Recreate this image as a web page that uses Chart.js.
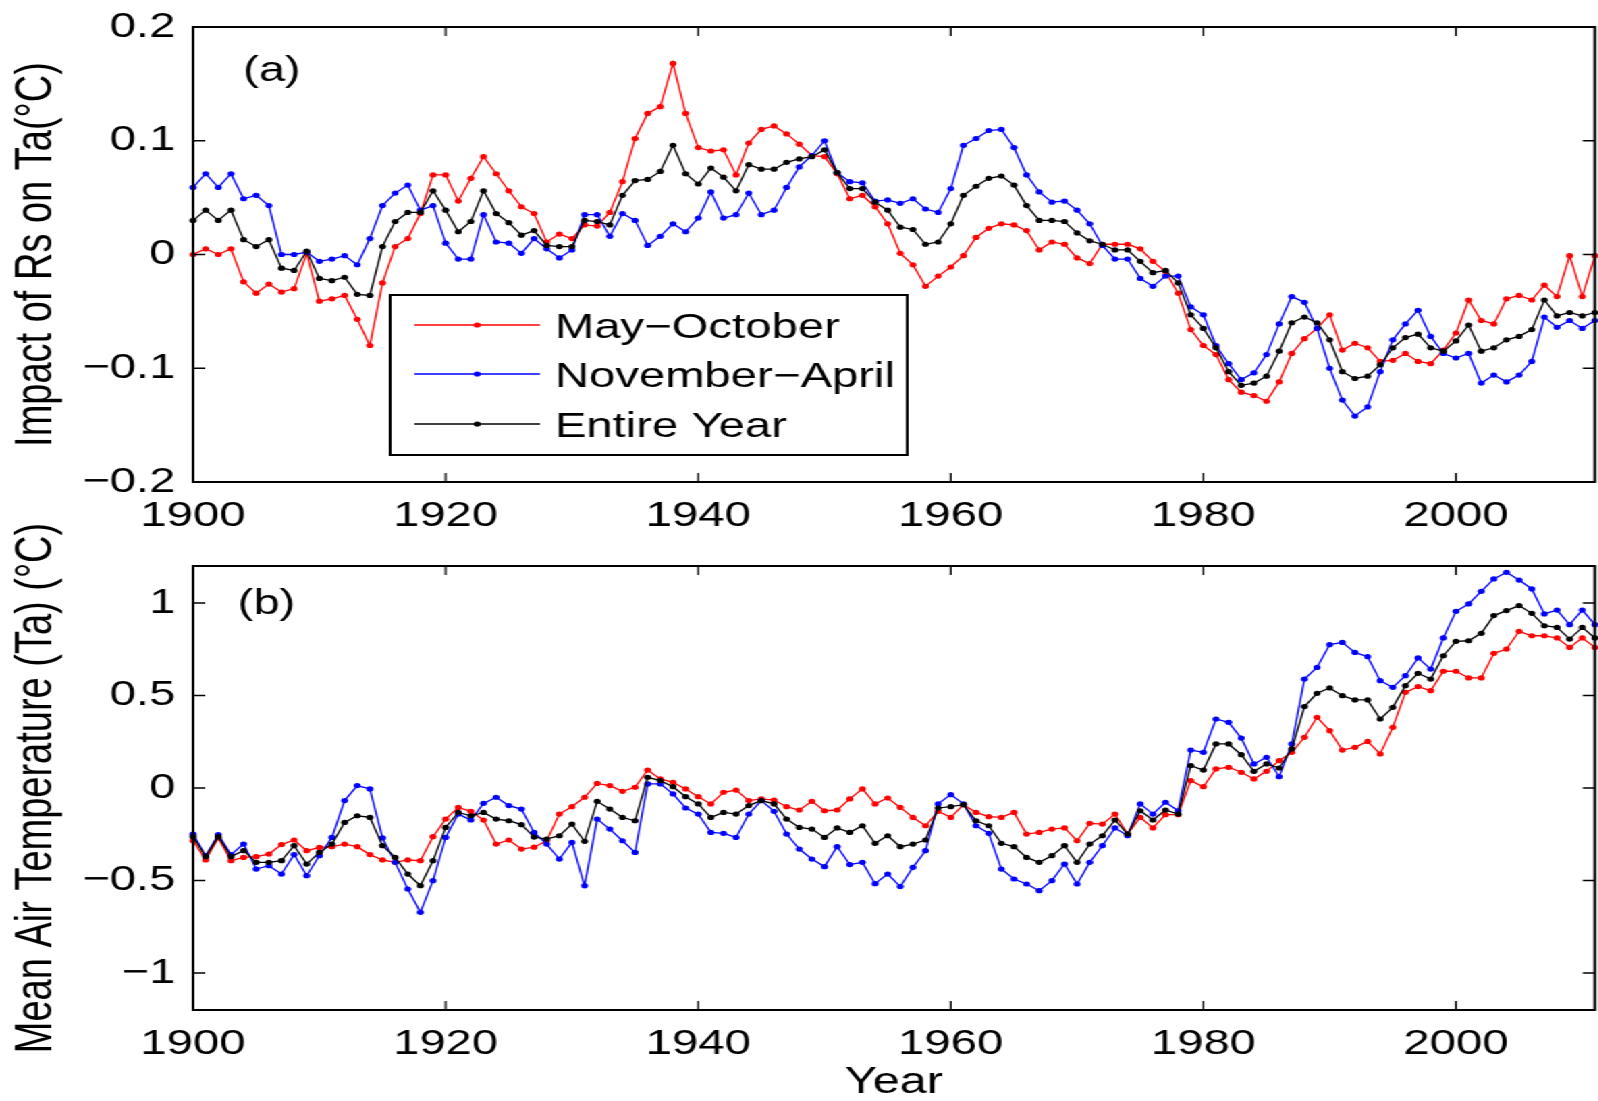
<!DOCTYPE html>
<html>
<head>
<meta charset="utf-8">
<script src="https://cdn.jsdelivr.net/npm/chart.js@4"></script>
<style>
  html, body { margin: 0; padding: 0; background: #fff; overflow: hidden; }
  /* the source figure is stretched sideways, so the whole drawing is too */
  #wrap { position: absolute; left: 0; top: 0; width: 1184px; height: 1101px; transform: scaleX(1.35); transform-origin: 0 0; }
  #wrap canvas { position: absolute; left: 0; }
</style>
</head>
<body>
<div id="wrap">
  <canvas id="chartA" width="1184" height="545" style="top:0"></canvas>
  <canvas id="chartB" width="1184" height="601" style="top:500px"></canvas>
</div>
<script>
// years 1900..2011
const years = [];
for (let y = 1900; y <= 2011; y++) years.push(y);

const seriesNames = ["May\u2212October", "November\u2212April", "Entire Year"];
const xTicks = [1900, 1920, 1940, 1960, 1980, 2000];
const yTicksA = [-0.2, -0.1, 0, 0.1, 0.2];
const yTicksB = [-1, -0.5, 0, 0.5, 1];

// (a) impact of Rs on Ta
const rsMayOct = [0.000, 0.005, 0.000, 0.005, -0.024, -0.034, -0.026, -0.033, -0.030, 0.001,
  -0.041, -0.039, -0.036, -0.057, -0.080, -0.025, 0.007, 0.014, 0.036, 0.070,
  0.070, 0.047, 0.067, 0.086, 0.071, 0.056, 0.042, 0.036, 0.011, 0.018,
  0.014, 0.026, 0.025, 0.037, 0.064, 0.102, 0.124, 0.130, 0.168, 0.124,
  0.094, 0.091, 0.092, 0.070, 0.098, 0.110, 0.113, 0.106, 0.097, 0.087,
  0.086, 0.071, 0.049, 0.052, 0.042, 0.027, 0.001, -0.009, -0.028, -0.019,
  -0.011, -0.001, 0.015, 0.023, 0.027, 0.026, 0.021, 0.004, 0.011, 0.009,
  -0.003, -0.008, 0.009, 0.009, 0.009, 0.005, -0.006, -0.015, -0.034, -0.066,
  -0.080, -0.088, -0.110, -0.121, -0.124, -0.129, -0.112, -0.087, -0.074, -0.065,
  -0.053, -0.084, -0.078, -0.082, -0.094, -0.093, -0.087, -0.094, -0.096, -0.084,
  -0.069, -0.040, -0.058, -0.061, -0.039, -0.036, -0.040, -0.027, -0.037, -0.001,
  -0.037, -0.001];
const rsNovApr = [0.059, 0.071, 0.059, 0.071, 0.049, 0.052, 0.043, 0.000, 0.000, 0.002,
  -0.006, -0.004, -0.001, -0.009, 0.014, 0.043, 0.054, 0.061, 0.039, 0.043,
  0.010, -0.004, -0.004, 0.035, 0.011, 0.010, 0.001, 0.014, 0.005, -0.003,
  0.004, 0.035, 0.035, 0.016, 0.036, 0.030, 0.008, 0.016, 0.027, 0.020,
  0.032, 0.055, 0.032, 0.035, 0.054, 0.035, 0.039, 0.059, 0.077, 0.087,
  0.100, 0.072, 0.064, 0.063, 0.047, 0.048, 0.045, 0.049, 0.040, 0.037,
  0.058, 0.096, 0.102, 0.109, 0.110, 0.094, 0.070, 0.055, 0.046, 0.047,
  0.039, 0.027, 0.008, -0.004, -0.004, -0.021, -0.028, -0.019, -0.019, -0.046,
  -0.053, -0.080, -0.096, -0.110, -0.104, -0.088, -0.061, -0.037, -0.042, -0.065,
  -0.100, -0.128, -0.142, -0.134, -0.103, -0.075, -0.061, -0.049, -0.072, -0.087,
  -0.091, -0.087, -0.113, -0.106, -0.112, -0.106, -0.094, -0.055, -0.064, -0.058,
  -0.065, -0.058];
const rsYear = [0.030, 0.039, 0.030, 0.039, 0.013, 0.007, 0.013, -0.012, -0.014, 0.003,
  -0.021, -0.023, -0.020, -0.035, -0.036, 0.007, 0.029, 0.037, 0.037, 0.056,
  0.039, 0.020, 0.029, 0.056, 0.036, 0.028, 0.017, 0.021, 0.008, 0.007,
  0.007, 0.030, 0.029, 0.026, 0.052, 0.065, 0.066, 0.073, 0.096, 0.071,
  0.062, 0.076, 0.068, 0.056, 0.079, 0.075, 0.075, 0.081, 0.084, 0.086,
  0.092, 0.072, 0.058, 0.058, 0.046, 0.039, 0.024, 0.022, 0.009, 0.011,
  0.027, 0.052, 0.060, 0.067, 0.069, 0.061, 0.043, 0.030, 0.030, 0.029,
  0.019, 0.012, 0.009, 0.004, 0.004, -0.006, -0.016, -0.014, -0.025, -0.053,
  -0.065, -0.082, -0.103, -0.115, -0.113, -0.107, -0.085, -0.060, -0.055, -0.060,
  -0.075, -0.103, -0.109, -0.107, -0.097, -0.082, -0.073, -0.070, -0.082, -0.085,
  -0.076, -0.062, -0.085, -0.082, -0.075, -0.072, -0.066, -0.040, -0.054, -0.051,
  -0.054, -0.051];

// (b) mean air temperature
const taMayOct = [-0.285, -0.389, -0.270, -0.393, -0.375, -0.371, -0.357, -0.306, -0.281, -0.339,
  -0.321, -0.317, -0.303, -0.317, -0.360, -0.389, -0.402, -0.389, -0.393, -0.263,
  -0.168, -0.105, -0.126, -0.173, -0.303, -0.281, -0.330, -0.320, -0.285, -0.141,
  -0.101, -0.050, 0.025, 0.013, -0.018, 0.004, 0.097, 0.049, 0.031, -0.005,
  -0.047, -0.086, -0.023, -0.011, -0.068, -0.059, -0.065, -0.101, -0.119, -0.072,
  -0.123, -0.119, -0.059, -0.005, -0.086, -0.054, -0.105, -0.159, -0.204, -0.126,
  -0.159, -0.090, -0.132, -0.155, -0.159, -0.132, -0.249, -0.240, -0.222, -0.216,
  -0.285, -0.191, -0.195, -0.141, -0.249, -0.159, -0.216, -0.144, -0.144, 0.040,
  0.007, 0.103, 0.112, 0.085, 0.049, 0.090, 0.148, 0.193, 0.274, 0.382,
  0.310, 0.205, 0.220, 0.252, 0.184, 0.328, 0.517, 0.548, 0.526, 0.631,
  0.631, 0.595, 0.595, 0.728, 0.751, 0.847, 0.823, 0.823, 0.811, 0.760,
  0.811, 0.760];
const taNovApr = [-0.249, -0.366, -0.252, -0.360, -0.303, -0.438, -0.420, -0.465, -0.360, -0.474,
  -0.366, -0.267, -0.068, 0.013, -0.005, -0.270, -0.402, -0.546, -0.672, -0.501,
  -0.267, -0.141, -0.173, -0.083, -0.050, -0.095, -0.114, -0.240, -0.303, -0.384,
  -0.294, -0.528, -0.168, -0.222, -0.285, -0.348, 0.022, 0.022, -0.032, -0.108,
  -0.141, -0.240, -0.245, -0.267, -0.141, -0.068, -0.126, -0.249, -0.330, -0.384,
  -0.425, -0.317, -0.414, -0.402, -0.517, -0.465, -0.533, -0.429, -0.339, -0.086,
  -0.036, -0.086, -0.204, -0.245, -0.438, -0.492, -0.519, -0.555, -0.501, -0.411,
  -0.519, -0.402, -0.312, -0.216, -0.258, -0.086, -0.141, -0.077, -0.123, 0.205,
  0.193, 0.373, 0.355, 0.270, 0.130, 0.166, 0.061, 0.238, 0.589, 0.652,
  0.775, 0.787, 0.733, 0.710, 0.580, 0.544, 0.607, 0.703, 0.643, 0.811,
  0.955, 0.995, 1.063, 1.130, 1.166, 1.124, 1.076, 0.941, 0.962, 0.883,
  0.962, 0.883];
const taYear = [-0.263, -0.371, -0.263, -0.371, -0.339, -0.402, -0.402, -0.393, -0.312, -0.411,
  -0.348, -0.303, -0.186, -0.150, -0.159, -0.312, -0.375, -0.465, -0.528, -0.393,
  -0.213, -0.132, -0.150, -0.132, -0.168, -0.177, -0.198, -0.265, -0.276, -0.258,
  -0.195, -0.288, -0.072, -0.114, -0.159, -0.177, 0.058, 0.040, 0.007, -0.047,
  -0.086, -0.159, -0.132, -0.141, -0.095, -0.068, -0.086, -0.168, -0.213, -0.222,
  -0.267, -0.216, -0.240, -0.204, -0.299, -0.258, -0.317, -0.303, -0.281, -0.108,
  -0.101, -0.090, -0.177, -0.204, -0.299, -0.317, -0.375, -0.402, -0.366, -0.312,
  -0.402, -0.303, -0.258, -0.173, -0.249, -0.123, -0.173, -0.119, -0.141, 0.121,
  0.097, 0.238, 0.238, 0.180, 0.090, 0.130, 0.108, 0.211, 0.440, 0.512,
  0.541, 0.499, 0.476, 0.476, 0.373, 0.436, 0.553, 0.620, 0.589, 0.715,
  0.793, 0.796, 0.836, 0.932, 0.959, 0.986, 0.944, 0.877, 0.868, 0.805,
  0.868, 0.811];

const colors = ["#ff0000", "#0000ff", "#000000"];
const FONT = '"Liberation Sans", Arial, Helvetica, sans-serif';

Chart.defaults.font.family = FONT;
Chart.defaults.color = "#000";

function fmt(v) {
    const r = Math.round(v * 1000) / 1000;
    return String(r).replace("-", "\u2212");
}

function makeSet(i, values) {
    return {
        label: seriesNames[i],
        data: values.map((v, k) => ({ x: years[k], y: v })),
        borderColor: colors[i],
        backgroundColor: colors[i],
        borderWidth: 1.3,
        pointRadius: 2.6,
        pointBorderWidth: 0,
        pointHoverRadius: 2.6,
        tension: 0,
        clip: false,
        order: 2 - i
    };
}

// box with inward ticks, panel letter and (for panel a) the legend
const framePlugin = {
    id: "frame",
    afterDatasetsDraw(chart, args, opts) {
        const ctx = chart.ctx;
        const a = chart.chartArea;
        const sx = chart.scales.x, sy = chart.scales.y;
        ctx.save();
        ctx.strokeStyle = "#000";
        ctx.lineWidth = 1.3;
        ctx.beginPath();
        xTicks.forEach(t => {
            const px = sx.getPixelForValue(t);
            ctx.moveTo(px, a.bottom); ctx.lineTo(px, a.bottom - 9);
            ctx.moveTo(px, a.top); ctx.lineTo(px, a.top + 9);
        });
        opts.yTicks.forEach(t => {
            const py = sy.getPixelForValue(t);
            ctx.moveTo(a.left, py); ctx.lineTo(a.left + 9, py);
            ctx.moveTo(a.right, py); ctx.lineTo(a.right - 9, py);
        });
        ctx.stroke();
        ctx.lineWidth = 2;
        ctx.strokeRect(a.left, a.top, a.right - a.left, a.bottom - a.top);

        ctx.fillStyle = "#000";
        ctx.font = "35px " + FONT;
        ctx.textBaseline = "middle";
        ctx.textAlign = "left";
        ctx.fillText(opts.tag, opts.tagX, opts.tagY);

        if (opts.legend) {
            const L = opts.legend;
            ctx.fillStyle = "#fff";
            ctx.fillRect(L.x, L.y, L.w, L.h);
            ctx.lineWidth = 2;
            ctx.strokeRect(L.x, L.y, L.w, L.h);
            seriesNames.forEach((name, i) => {
                const ry = L.rows[i];
                ctx.strokeStyle = colors[i];
                ctx.fillStyle = colors[i];
                ctx.lineWidth = 1.3;
                ctx.beginPath();
                ctx.moveTo(L.lineX0, ry); ctx.lineTo(L.lineX1, ry);
                ctx.stroke();
                ctx.beginPath();
                ctx.arc((L.lineX0 + L.lineX1) / 2, ry, 2.6, 0, Math.PI * 2);
                ctx.fill();
                ctx.fillStyle = "#000";
                ctx.font = "35px " + FONT;
                ctx.fillText(name, L.textX, ry + 3);
            });
        }
        ctx.restore();
    }
};

function makeChart(id, sets, cfg) {
    return new Chart(document.getElementById(id), {
        type: "line",
        data: { datasets: sets },
        options: {
            responsive: false,
            animation: false,
            devicePixelRatio: 1,
            layout: { padding: { top: cfg.padTop, right: 1, bottom: 0, left: 0 } },
            plugins: {
                legend: { display: false },
                tooltip: { enabled: false },
                frame: cfg.frame
            },
            scales: {
                x: {
                    type: "linear",
                    min: 1900,
                    max: 2011,
                    grid: { display: false, drawTicks: false },
                    border: { display: false },
                    ticks: {
                        stepSize: 20,
                        padding: cfg.xPad,
                        maxRotation: 0,
                        autoSkip: false,
                        font: { size: 35, lineHeight: 1 },
                        callback: v => String(v)
                    },
                    afterBuildTicks: s => { s.ticks = xTicks.map(v => ({ value: v })); },
                    title: {
                        display: !!cfg.xTitle,
                        text: cfg.xTitle || "",
                        font: { size: 36, lineHeight: 1 },
                        padding: { top: 0, bottom: 0 }
                    },
                    afterFit: s => { s.height = cfg.xHeight; s.paddingLeft = 0; s.paddingRight = 0; }
                },
                y: {
                    min: cfg.yMin,
                    max: cfg.yMax,
                    grid: { display: false, drawTicks: false },
                    border: { display: false },
                    ticks: {
                        padding: 13,
                        font: { size: 35, lineHeight: 1 },
                        callback: v => fmt(v)
                    },
                    afterBuildTicks: s => { s.ticks = cfg.frame.yTicks.map(v => ({ value: v })); },
                    title: {
                        display: true,
                        text: cfg.yTitle,
                        font: { size: 38, lineHeight: 1 },
                        padding: { top: 9, bottom: 0 }
                    },
                    afterFit: s => { s.width = 143; s.paddingTop = 0; s.paddingBottom = 0; }
                }
            }
        },
        plugins: [framePlugin]
    });
}

makeChart("chartA", [makeSet(0, rsMayOct), makeSet(1, rsNovApr), makeSet(2, rsYear)], {
    padTop: 27, xHeight: 63, xPad: 17, yMin: -0.2, yMax: 0.2,
    yTitle: "Impact of Rs on Ta(\u00B0C)",
    frame: {
        yTicks: yTicksA, tag: "(a)", tagX: 180, tagY: 71,
        legend: { x: 289, y: 295, w: 383, h: 160, lineX0: 307, lineX1: 400, textX: 411, rows: [325, 374, 424] }
    }
});

makeChart("chartB", [makeSet(0, taMayOct), makeSet(1, taNovApr), makeSet(2, taYear)], {
    padTop: 66, xHeight: 91, xPad: 17, yMin: -1.2, yMax: 1.2, xTitle: "Year",
    yTitle: "Mean Air Temperature (Ta) (\u00B0C)",
    frame: { yTicks: yTicksB, tag: "(b)", tagX: 176, tagY: 104 }
});
</script>
</body>
</html>
